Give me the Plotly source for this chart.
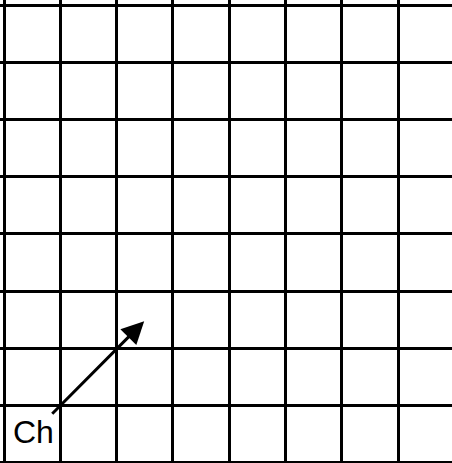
import plotly.graph_objects as go

# Grid definition (cells)
n_cols = 8
n_rows = 8
col_edges = list(range(0, n_cols + 1))
row_edges = list(range(0, n_rows + 1))

# Arrow (grid units): tail -> tip
arrow_tail = [0.83, 0.82]
arrow_tip = [2.49, 2.47]

# Label
label_text = "Ch"
label_pos = [0.52, 0.52]

fig = go.Figure()

# invisible trace to set up axes
fig.add_trace(go.Scatter(x=[col_edges[0], col_edges[-1]], y=[row_edges[0], row_edges[-1]],
                         mode="markers", marker=dict(opacity=0), hoverinfo="skip", showlegend=False))

grid_style = dict(showgrid=True, gridcolor="black", gridwidth=2.5, zeroline=True,
                  zerolinecolor="black", zerolinewidth=2.5, showticklabels=False,
                  ticks="", showline=False, tick0=0, dtick=1, fixedrange=True)

fig.update_xaxes(range=[-0.071, 7.957], **grid_style)
fig.update_yaxes(range=[-0.0175, 8.105], **grid_style)

fig.add_annotation(x=arrow_tip[0], y=arrow_tip[1], ax=arrow_tail[0], ay=arrow_tail[1],
                   xref="x", yref="y", axref="x", ayref="y", text="", showarrow=True,
                   arrowhead=2, arrowsize=1.5, arrowwidth=3, arrowcolor="black")

fig.add_annotation(x=label_pos[0], y=label_pos[1], xref="x", yref="y", text=label_text,
                   showarrow=False, font=dict(family="Liberation Sans, Arial", size=32, color="black"),
                   xanchor="center", yanchor="middle")

fig.update_layout(width=452, height=463, margin=dict(l=0, r=0, t=0, b=0),
                  plot_bgcolor="white", paper_bgcolor="white", showlegend=False)

fig.write_html("out.html", config={"displayModeBar": False},
               post_script="document.body.style.margin='0';document.body.style.overflow='hidden';")
